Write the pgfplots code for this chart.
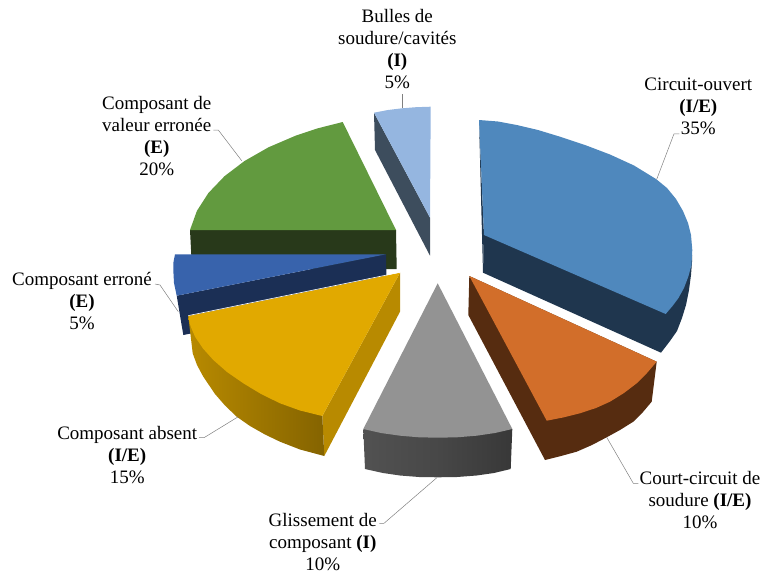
\documentclass[border=0pt]{standalone}
\usepackage{fontspec}
\setmainfont{Liberation Serif}
\usepackage{pgfplots}
\pgfplotsset{compat=1.18}
\definecolor{c1}{HTML}{4F88BD}\definecolor{c1d}{HTML}{1F364E}
\definecolor{c2}{HTML}{D26E2A}\definecolor{c2d}{HTML}{562C10}
\definecolor{c3}{HTML}{939393}
\definecolor{c4}{HTML}{E1A900}\definecolor{c4d}{HTML}{B88A00}
\definecolor{c5}{HTML}{3863AC}\definecolor{c5d}{HTML}{1B2F55}
\definecolor{c6}{HTML}{629A3F}\definecolor{c6d}{HTML}{28391A}
\definecolor{c7}{HTML}{95B6E0}\definecolor{c7d}{HTML}{3D4D5D}
\tikzset{
  f/.style={fill=#1,draw=none},
  lead/.style={draw=black!50,line width=.5pt},
  lab/.style={align=center,font=\fontsize{19}{22}\selectfont,inner sep=0pt},
}
\begin{document}
\begin{tikzpicture}
\begin{axis}[
  width=761pt,height=573pt,scale only axis,
  xmin=0,xmax=761,ymin=0,ymax=573,y dir=reverse,
  axis lines=none,
]
% light blue, 5%
\addplot[f=c7d] coordinates {(374,112.7)(430,217.7)(430,255.7)(375,150)} --cycle;
\addplot[f=c7] coordinates {(374,112.7)(388,110)(402,108.3)(416,107.2)(430.7,106.7)(430,217.7)} --cycle;
% blue, 35%
\addplot[f=c1d] coordinates {(484,235)(692,255)(692,262)(691,275)(689,290)(686,305)(682,318)(677,331)(670,341)(661,352.7)(483,272.7)} --cycle;
\addplot[f=c1d] coordinates {(479,120)(484,235)(483,272.7)} --cycle;
\addplot[f=c1] coordinates {(479,120)(498,121.5)(516.7,125)(538,130)(560,136.7)(585,145)(610,154.5)(634,165.5)(656,179)(667,188)(676,199)(683,211)(688,223)(691,235)(692.3,250)(691.5,265)(688.3,276.7)(684,288)(678.3,298.3)(672.5,306)(665.7,314)(484,235)} --cycle;
% orange, 10%
\addplot[f=c2d] coordinates {(469.3,276)(656.7,361.7)(651.7,401.7)(643,412)(633.3,421.7)(620,430)(606.7,437.3)(592,445)(576.7,451.7)(561,456)(545,460)(468.3,315)} --cycle;
\addplot[f=c2] coordinates {(469.3,276)(656.7,361.7)(647,373)(636.7,383.3)(624,393)(610,401.7)(596,408)(580,413.3)(563,417.5)(546.7,420.7)} --cycle;
% grey, 10%
\addplot[draw=none,left color=black!68,right color=black!78,middle color=black!72] coordinates {(363.3,429)(365,469)(383,473)(400,475.5)(419,477)(437.7,477.3)(457,477)(476.7,475.5)(494,473)(510.7,469)(512.3,429)} --cycle;
\addplot[f=c3] coordinates {(437.7,283.3)(512.3,429)(495,433)(476.7,435.7)(457,437.3)(437.7,437.7)(419,437.3)(400,435.7)(381,433)(363.3,429)} --cycle;
% green, 20%
\addplot[f=c6d] coordinates {(190,230)(396,230)(396.7,269)(192,269)} --cycle;
\addplot[f=c6] coordinates {(396,230)(190,230)(196.9,210.9)(208.4,193)(224.5,176.2)(244.5,161)(268.3,147.4)(295.6,135.7)(316.7,128.6)(342.7,122)} --cycle;
% dark blue, 5%
\addplot[f=c5d] coordinates {(386,254.3)(386.7,295)(183.3,335)(176.7,295.7)} --cycle;
\addplot[f=c5] coordinates {(386,254.3)(176.7,295.7)(174,283)(173.3,270)(173.5,262)(175,254.3)} --cycle;
% yellow, 15%
\addplot[f=c4d] coordinates {(400,272.7)(400,311.7)(324.3,456)(322.3,416)} --cycle;
\addplot[draw=none,left color=c4d,right color=c4d!72!black] coordinates {(188.3,316)(192.7,353.3)(197,365)(203.3,376.7)(215,394)(225,405.5)(236.7,416.7)(250,426)(265,434.5)(280,441.7)(300,449.5)(324.3,456)(322.3,416)} --cycle;
\addplot[f=c4] coordinates {(400,272.7)(188.3,316)(190.5,326)(195,336.7)(203,348.5)(213.3,360)(227,372)(243.3,383.3)(261,394)(280,403.3)(300,410.5)(322.3,416)} --cycle;
\addplot[draw=white,line width=.6pt] coordinates {(188.3,315.6)(400,272.3)};
% leaders
\addplot[lead] coordinates {(402,94)(402,108)};
\addplot[lead] coordinates {(679.3,133.8)(674,133.8)(656.7,179.3)};
\addplot[lead] coordinates {(213.3,130)(218.3,130)(241.7,160.7)};
\addplot[lead] coordinates {(155,284)(160,285)(178.3,311.7)};
\addplot[lead] coordinates {(199,437.7)(204,437.7)(238.3,416.7)};
\addplot[lead] coordinates {(436.7,477.8)(384,523.3)(379.3,523.3)};
\addplot[lead] coordinates {(606.7,437.3)(633.3,483.3)(638.3,483.3)};
% labels
\node[lab] at (axis cs:397.3,49.5) {Bulles de\\soudure/cavités\\\textbf{(I)}\\5\%};
\node[lab] at (axis cs:698.3,106.5) {Circuit-ouvert\\\textbf{(I/E)}\\35\%};
\node[lab] at (axis cs:156.7,135.8) {Composant de\\valeur erronée\\\textbf{(E)}\\20\%};
\node[lab] at (axis cs:82,301.5) {Composant erroné\\\textbf{(E)}\\5\%};
\node[lab] at (axis cs:127.2,455) {Composant absent\\\textbf{(I/E)}\\15\%};
\node[lab] at (axis cs:322.8,541.8) {Glissement de\\composant \textbf{(I)}\\10\%};
\node[lab] at (axis cs:700,500.5) {Court-circuit de\\soudure \textbf{(I/E)}\\10\%};
\end{axis}
\pgfresetboundingbox
\path[use as bounding box] (0,0) rectangle (761pt,573pt);
\end{tikzpicture}
\end{document}
